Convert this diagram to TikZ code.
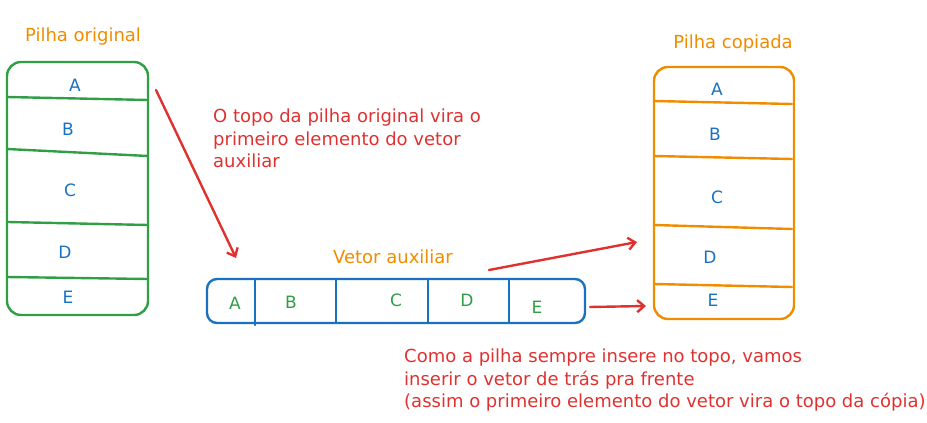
\documentclass[tikz,border=0pt]{standalone}
\usepackage{fontspec}
\setmainfont{DejaVu Sans}
\usetikzlibrary{arrows.meta}
\definecolor{exgreen}{HTML}{2F9E44}
\definecolor{exblue}{HTML}{1971C2}
\definecolor{exorange}{HTML}{F08C00}
\definecolor{exred}{HTML}{E03131}
\begin{document}
\begin{tikzpicture}[x=1pt,y=-1pt,line width=2.4pt,line cap=round,
    cell/.style={font=\fontsize{17}{18}\selectfont},
    title/.style={font=\fontsize{18}{20}\selectfont,exorange},
    note/.style={font=\fontsize{18}{22.5}\selectfont,exred,align=left,anchor=north west,inner sep=0pt},
    arr/.style={exred,-{Straight Barb[length=7pt,width=12pt]}}]
    \useasboundingbox (0,0) rectangle (927,423);
    % pilha original
    \node[title] (torig) at (83,37) {Pilha original};
    \draw[exgreen,rounded corners=14pt] (7,62) rectangle (148,315);
    \draw[exgreen] (7,97) -- (148,100);
    \draw[exgreen] (7,149) -- (148,156);
    \draw[exgreen] (8,222) -- (148,225);
    \draw[exgreen] (7,277) -- (148,279);
    \node[cell,exblue] (oA) at (75,85) {A};
    \node[cell,exblue] (oB) at (68,129) {B};
    \node[cell,exblue] (oC) at (70,190) {C};
    \node[cell,exblue] (oD) at (65,252) {D};
    \node[cell,exblue] (oE) at (68,297) {E};
    % vetor auxiliar
    \node[title] (tvet) at (393,257) {Vetor auxiliar};
    \draw[exblue,rounded corners=10pt] (207,279) rectangle (585,323);
    \draw[exblue] (255,279) -- (255,325);
    \draw[exblue] (336,279) -- (336,323);
    \draw[exblue] (428,279) -- (428,323);
    \draw[exblue] (509,279) -- (509,323);
    \node[cell,exgreen] (vA) at (235,303) {A};
    \node[cell,exgreen] (vB) at (291,302) {B};
    \node[cell,exgreen] (vC) at (396,300) {C};
    \node[cell,exgreen] (vD) at (467,300) {D};
    \node[cell,exgreen] (vE) at (537,307) {E};
    % pilha copiada
    \node[title] (tcop) at (733,44) {Pilha copiada};
    \draw[exorange,rounded corners=14pt] (654,67) rectangle (794,319);
    \draw[exorange] (654,101) -- (792,104);
    \draw[exorange] (654,156) -- (792,159);
    \draw[exorange] (654,225) -- (792,229);
    \draw[exorange] (654,284) -- (792,287);
    \node[cell,exblue] (cA) at (717,89) {A};
    \node[cell,exblue] (cB) at (715,134) {B};
    \node[cell,exblue] (cC) at (717,197) {C};
    \node[cell,exblue] (cD) at (710,257) {D};
    \node[cell,exblue] (cE) at (713,300) {E};
    % setas e notas
    \coordinate (s1) at (156,90);
    \coordinate (e1) at (236,258);
    \coordinate (s2) at (489,270);
    \coordinate (e2) at (637,242);
    \coordinate (s3) at (590,307);
    \coordinate (e3) at (646,306);
    \draw[arr] (s1) -- (e1);
    \draw[arr] (s2) -- (e2);
    \draw[arr] (s3) -- (e3);
    \node[note] (n1) at (212,108) {O topo da pilha original vira o\\primeiro elemento do vetor\\auxiliar};
    \node[note] (n2) at (403,348) {Como a pilha sempre insere no topo, vamos\\inserir o vetor de trás pra frente\\(assim o primeiro elemento do vetor vira o topo da cópia)};
\end{tikzpicture}
\end{document}
